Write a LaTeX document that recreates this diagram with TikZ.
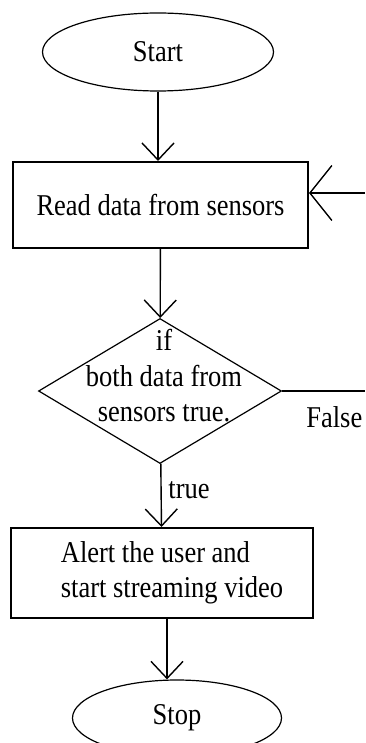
\documentclass[tikz,border=0pt]{standalone}
\usepackage{graphicx}
\usepackage{fontspec}
\setmainfont{Liberation Serif}
\usetikzlibrary{shapes.geometric,arrows.meta}
\newcommand\stretchtxt[1]{\scalebox{1}[1.14]{#1}}
\begin{document}
\begin{tikzpicture}[x=0.5pt, y=-0.5pt,
    every node/.style={font=\fontsize{13.25pt}{17.75pt}\selectfont},
    terminal/.style={draw, ellipse, line width=0.6pt, inner sep=0pt},
    process/.style={draw, rectangle, line width=1pt, inner sep=0pt},
    decision/.style={draw, diamond, line width=0.6pt, inner sep=0pt},
    flow/.style={line width=0.7pt, -{Straight Barb[length=8.5pt, width=16pt]}},
    backflow/.style={line width=0.7pt, -{Straight Barb[length=11pt, width=27.5pt]}}]
    \useasboundingbox (0,0) rectangle (365,743);
    % blocks
    \node [terminal, minimum width=115.5pt, minimum height=39pt] (start) at (158,52) {\stretchtxt{Start}};
    \node [process, minimum width=147.5pt, minimum height=43pt] (read) at (160.5,205) {\stretchtxt{Read data from sensors}};
    \node [decision, minimum width=121.5pt, minimum height=72.5pt] (cond) at (160,391) {};
    \node [align=center, inner sep=0pt] (condtext) at (164,376) {\stretchtxt{if}\\\stretchtxt{both data from}\\\stretchtxt{sensors true.}};
    \node [process, minimum width=151pt, minimum height=45pt, align=left] (alert) at (162,573) {\hspace*{10pt}\stretchtxt{Alert the user and}\\\hspace*{10pt}\stretchtxt{start streaming video}};
    \node [terminal, minimum width=104.5pt, minimum height=38pt] (stop) at (177,718) {\stretchtxt{Stop}};
    % loop ends at the right border
    \coordinate (falseend) at (365,391);
    \coordinate (loopin) at (365,193);
    % connectors
    \draw [flow] (start.south) -- (start.south |- read.north);
    \draw [flow] (read) -- (cond);
    \draw [flow] (cond) -- node [pos=0.42, right] (truelbl) {\stretchtxt{true}} (alert);
    \draw [flow] ([xshift=2.5pt]alert.south) -- ([xshift=2.5pt]alert.south |- stop.north);
    \draw [line width=0.7pt] (cond.east) -- node [pos=0.63, below=4pt] (falselbl) {\stretchtxt{False}} (falseend);
    \draw [backflow] (loopin) -- (loopin -| read.east);
\end{tikzpicture}
\end{document}
